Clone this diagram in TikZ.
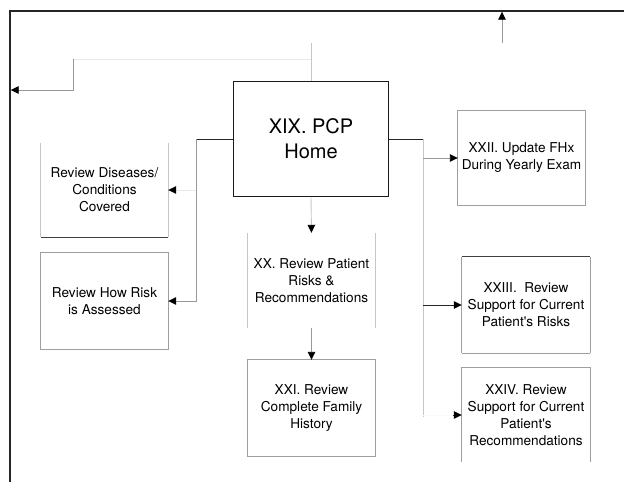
\documentclass[tikz,border=0pt]{standalone}
\usepackage{fontspec}
\setmainfont{TeX Gyre Heros}
\usetikzlibrary{arrows.meta}
\begin{document}
\begin{tikzpicture}[x=1pt,y=-1pt,
  box/.style={draw=none, minimum width=127pt, minimum height=95pt, inner sep=0pt,
    align=center, font=\fontsize{13.6}{17}\selectfont},
  mainbox/.style={draw=black!90, line width=1.8pt, minimum width=155pt, minimum height=115pt,
    inner sep=0pt, align=center, font=\fontsize{20}{25}\selectfont},
  edgeline/.style={draw=gray!75, line width=0.9pt},
  edgedark/.style={draw=black!75, line width=1pt},
  vlight/.style={draw=gray!18, line width=0.8pt},
  light/.style={draw=gray!45, line width=0.9pt},
  mid/.style={draw=gray!80, line width=0.9pt},
  dark/.style={draw=black!85, line width=1pt},
  tip/.style={-{Triangle[length=8pt,width=7.5pt,color=black]}},
]
\useasboundingbox (0,0) rectangle (624,482);

% outer frame
\draw[line width=1.3pt, black!85] (10,482) -- (10,11) -- (624,11);

% nodes
\node[mainbox] (main) at (311,139) {XIX. PCP\\Home};
\node[box, minimum height=94pt] (dis) at (104.5,190) {Review Diseases/\\Conditions\\Covered};
\node[box, minimum height=96pt] (risk) at (104.5,301) {Review How Risk\\is Assessed};
\node[box] (xx) at (311.5,280.5) {XX. Review Patient\\Risks \&\\Recommendations};
\node[box, minimum height=96pt] (xxi) at (311.5,408) {XXI. Review\\Complete Family\\History};
\node[box, minimum height=94pt] (xxii) at (521.5,158) {XXII. Update FHx\\During Yearly Exam};
\node[box, minimum width=128pt, minimum height=96pt] (xxiii) at (526,305) {XXIII.\ \ Review\\Support for Current\\Patient\textquotesingle s Risks};
\node[box, minimum width=128pt, minimum height=94pt] (xxiv) at (526,415) {XXIV. Review\\Support for Current\\Patient\textquotesingle s\\Recommendations};

% box outlines (some sides are not drawn)
\draw[light] (dis.north west) -- (dis.south west);
\draw[light] (dis.north east) -- (dis.south east);
\draw[edgedark] (dis.south west) -- (dis.south east);
\draw[edgeline] (risk.north west) rectangle (risk.south east);
\draw[light] (xx.north west) -- (xx.south west);
\draw[light] (xx.north east) -- (xx.south east);
\draw[edgeline] (xxi.north west) rectangle (xxi.south east);
\draw[edgeline] (xxii.north west) rectangle (xxii.south east);
\draw[edgeline] (xxiii.south west) -- (xxiii.north west);
\draw[edgeline] (xxiii.south east) -- (xxiii.north east);
\draw[edgedark] (xxiii.north west) -- (xxiii.north east);
\draw[edgeline] (xxiii.south west) -- (xxiii.south east);
\draw[edgeline] (xxiv.south west) -- (xxiv.north west) -- (xxiv.north east) -- (xxiv.south east);

% left branch
\coordinate (lj) at (196,139);
\draw[dark] (main.west) -- (lj);
\draw[mid, tip] (lj) |- (risk.east);
\draw[vlight, tip] (lj |- dis.east) -- (dis.east);

% right branch
\coordinate (rj) at (423,139);
\coordinate (rend) at (423,417);
\draw[dark] (main.east) -- (rj);
\draw[light] (rj) -- (rend);
\draw[mid, tip] (rj |- xxii.west) -- (xxii.west);
\draw[dark, tip] (rj |- xxiii.west) -- (xxiii.west);
% the last branch shows only its arrowhead
\draw[draw=gray!4, line width=0.8pt] (rend |- xxiv.west) -- ([xshift=-8pt]xxiv.west);
\draw[dark, tip] ([xshift=-8.5pt]xxiv.west) -- (xxiv.west);

% downward chain
\draw[light, tip] (main.south) -- (xx.north);
\draw[mid, tip] (xx.south) -- (xxi.north);

% loop back to the left frame
\coordinate (tstub) at (311,43);
\coordinate (tjoin) at (311,59);
\coordinate (tbend) at (73,59);
\coordinate (tdown) at (73,90);
\coordinate (tleft) at (10.7,90);
\draw[light] (main.north) -- (tstub);
\draw[vlight] (tjoin) -- (tbend);
\draw[mid, tip] (tbend) -- (tdown) -- (tleft);

% upward arrow to the top frame
\coordinate (ustart) at (502,43);
\coordinate (uend) at (502,11.7);
\draw[mid, tip] (ustart) -- (uend);
\end{tikzpicture}
\end{document}
